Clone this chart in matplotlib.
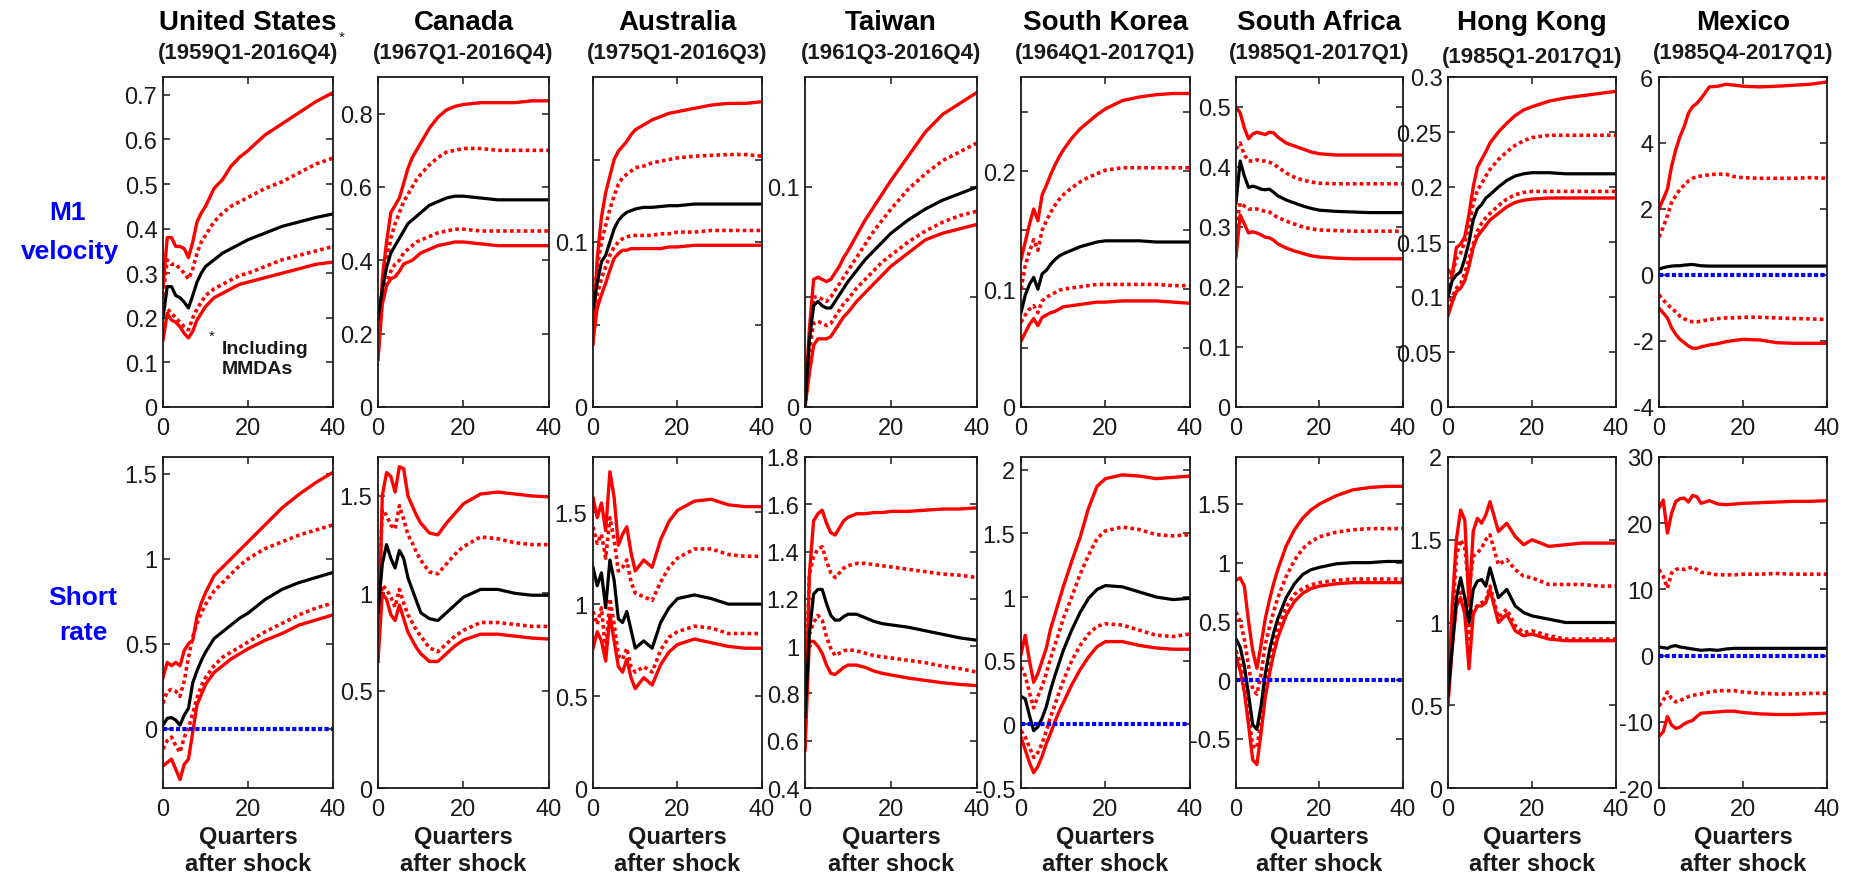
import numpy as np
import matplotlib
matplotlib.use("Agg")
import matplotlib.pyplot as plt

plt.rcParams['font.family'] = ['Liberation Sans', 'DejaVu Sans']
plt.rcParams['axes.unicode_minus'] = False

# ---------------- data ----------------
quarters = [0, 1, 2, 3, 4, 5, 6, 7, 8, 9, 10, 12, 14, 16, 18, 20, 24, 28, 32, 36, 40]

countries = ["United States", "Canada", "Australia", "Taiwan", "South Korea",
             "South Africa", "Hong Kong", "Mexico"]
periods = ["(1959Q1-2016Q4)", "(1967Q1-2016Q4)", "(1975Q1-2016Q3)", "(1961Q3-2016Q4)",
           "(1964Q1-2017Q1)", "(1985Q1-2017Q1)", "(1985Q1-2017Q1)", "(1985Q4-2017Q1)"]
row_labels = ["M1\nvelocity", "Short\nrate"]

# --- M1 velocity responses: outer band hi, inner band hi68, median, inner lo68, outer lo
us_v_hi = [0.27, 0.38, 0.38, 0.36, 0.36, 0.355, 0.335, 0.37, 0.415, 0.435, 0.45, 0.49, 0.51, 0.54, 0.56, 0.575, 0.61, 0.635, 0.66, 0.685, 0.705]
us_v_hi68 = [0.25, 0.33, 0.32, 0.32, 0.31, 0.30, 0.287, 0.31, 0.345, 0.37, 0.385, 0.415, 0.435, 0.45, 0.46, 0.47, 0.49, 0.505, 0.525, 0.545, 0.558]
us_v_med = [0.2, 0.27, 0.27, 0.25, 0.245, 0.235, 0.222, 0.25, 0.28, 0.30, 0.315, 0.33, 0.345, 0.355, 0.365, 0.375, 0.39, 0.405, 0.415, 0.425, 0.433]
us_v_lo68 = [0.23, 0.22, 0.21, 0.20, 0.19, 0.18, 0.173, 0.20, 0.22, 0.235, 0.25, 0.265, 0.275, 0.285, 0.295, 0.30, 0.315, 0.33, 0.34, 0.35, 0.36]
us_v_lo = [0.15, 0.21, 0.195, 0.19, 0.18, 0.165, 0.155, 0.17, 0.195, 0.21, 0.225, 0.245, 0.255, 0.265, 0.275, 0.28, 0.29, 0.30, 0.31, 0.32, 0.325]

ca_v_hi = [0.13, 0.35, 0.45, 0.53, 0.55, 0.57, 0.61, 0.65, 0.68, 0.70, 0.72, 0.76, 0.79, 0.81, 0.82, 0.825, 0.83, 0.83, 0.83, 0.835, 0.835]
ca_v_hi68 = [0.2, 0.32, 0.40, 0.46, 0.50, 0.53, 0.56, 0.58, 0.60, 0.62, 0.635, 0.66, 0.68, 0.695, 0.70, 0.705, 0.705, 0.70, 0.70, 0.70, 0.70]
ca_v_med = [0.24, 0.32, 0.38, 0.42, 0.44, 0.46, 0.48, 0.50, 0.51, 0.52, 0.53, 0.55, 0.56, 0.57, 0.575, 0.575, 0.57, 0.565, 0.565, 0.565, 0.565]
ca_v_lo68 = [0.22, 0.30, 0.34, 0.37, 0.39, 0.40, 0.42, 0.43, 0.44, 0.45, 0.455, 0.465, 0.475, 0.48, 0.485, 0.485, 0.48, 0.48, 0.48, 0.48, 0.48]
ca_v_lo = [0.13, 0.28, 0.33, 0.35, 0.355, 0.37, 0.39, 0.395, 0.40, 0.41, 0.42, 0.43, 0.44, 0.445, 0.45, 0.45, 0.445, 0.44, 0.44, 0.44, 0.44]

au_v_hi = [0.038, 0.09, 0.115, 0.13, 0.14, 0.15, 0.155, 0.158, 0.161, 0.165, 0.168, 0.171, 0.174, 0.176, 0.178, 0.179, 0.181, 0.183, 0.184, 0.184, 0.185]
au_v_hi68 = [0.06, 0.085, 0.10, 0.11, 0.12, 0.128, 0.135, 0.139, 0.141, 0.143, 0.145, 0.146, 0.148, 0.149, 0.150, 0.151, 0.152, 0.1525, 0.153, 0.153, 0.152]
au_v_med = [0.06, 0.075, 0.088, 0.092, 0.10, 0.108, 0.113, 0.116, 0.118, 0.119, 0.120, 0.121, 0.121, 0.1215, 0.122, 0.122, 0.123, 0.123, 0.123, 0.123, 0.123]
au_v_lo68 = [0.055, 0.068, 0.078, 0.085, 0.092, 0.097, 0.100, 0.102, 0.103, 0.104, 0.104, 0.104, 0.104, 0.105, 0.105, 0.106, 0.106, 0.107, 0.107, 0.107, 0.107]
au_v_lo = [0.04, 0.06, 0.068, 0.075, 0.083, 0.090, 0.093, 0.095, 0.095, 0.096, 0.096, 0.096, 0.096, 0.096, 0.097, 0.097, 0.098, 0.098, 0.098, 0.098, 0.098]

tw_v_hi = [0.0, 0.035, 0.058, 0.059, 0.058, 0.057, 0.058, 0.061, 0.064, 0.068, 0.071, 0.078, 0.085, 0.091, 0.097, 0.103, 0.114, 0.125, 0.133, 0.138, 0.143]
tw_v_hi68 = [0.0, 0.03, 0.05, 0.05, 0.049, 0.048, 0.05, 0.053, 0.056, 0.059, 0.062, 0.068, 0.074, 0.080, 0.085, 0.090, 0.099, 0.106, 0.112, 0.116, 0.12]
tw_v_med = [0.0, 0.03, 0.046, 0.048, 0.046, 0.045, 0.045, 0.048, 0.051, 0.054, 0.057, 0.062, 0.067, 0.071, 0.075, 0.079, 0.085, 0.09, 0.094, 0.097, 0.1]
tw_v_lo68 = [0.0, 0.025, 0.038, 0.039, 0.038, 0.037, 0.038, 0.041, 0.044, 0.047, 0.049, 0.054, 0.058, 0.062, 0.066, 0.069, 0.075, 0.080, 0.084, 0.087, 0.089]
tw_v_lo = [0.0, 0.015, 0.028, 0.031, 0.031, 0.031, 0.032, 0.035, 0.038, 0.041, 0.043, 0.048, 0.052, 0.056, 0.06, 0.064, 0.07, 0.076, 0.079, 0.081, 0.083]

kr_v_hi = [0.125, 0.14, 0.155, 0.168, 0.158, 0.18, 0.188, 0.197, 0.205, 0.212, 0.218, 0.228, 0.236, 0.242, 0.248, 0.253, 0.26, 0.263, 0.265, 0.266, 0.266]
kr_v_hi68 = [0.10, 0.12, 0.132, 0.142, 0.133, 0.15, 0.158, 0.165, 0.171, 0.176, 0.18, 0.186, 0.191, 0.195, 0.198, 0.201, 0.203, 0.203, 0.203, 0.203, 0.203]
kr_v_med = [0.08, 0.095, 0.104, 0.11, 0.10, 0.113, 0.116, 0.121, 0.125, 0.128, 0.13, 0.133, 0.136, 0.138, 0.14, 0.141, 0.141, 0.141, 0.14, 0.14, 0.14]
kr_v_lo68 = [0.072, 0.078, 0.083, 0.086, 0.080, 0.09, 0.093, 0.095, 0.097, 0.099, 0.10, 0.101, 0.102, 0.103, 0.104, 0.104, 0.104, 0.104, 0.104, 0.103, 0.103]
kr_v_lo = [0.056, 0.063, 0.07, 0.075, 0.069, 0.076, 0.078, 0.080, 0.081, 0.083, 0.085, 0.086, 0.087, 0.088, 0.089, 0.089, 0.09, 0.09, 0.09, 0.089, 0.088]

za_v_hi = [0.50, 0.49, 0.465, 0.447, 0.455, 0.458, 0.456, 0.454, 0.458, 0.457, 0.45, 0.44, 0.435, 0.43, 0.425, 0.422, 0.42, 0.42, 0.42, 0.42, 0.42]
za_v_hi68 = [0.43, 0.44, 0.42, 0.41, 0.41, 0.412, 0.41, 0.41, 0.408, 0.405, 0.40, 0.39, 0.383, 0.378, 0.375, 0.373, 0.372, 0.372, 0.372, 0.372, 0.372]
za_v_med = [0.34, 0.41, 0.385, 0.366, 0.368, 0.366, 0.363, 0.362, 0.363, 0.358, 0.352, 0.345, 0.34, 0.335, 0.331, 0.328, 0.326, 0.325, 0.324, 0.324, 0.324]
za_v_lo68 = [0.30, 0.34, 0.335, 0.33, 0.33, 0.33, 0.328, 0.326, 0.325, 0.32, 0.316, 0.31, 0.305, 0.30, 0.297, 0.295, 0.294, 0.293, 0.293, 0.293, 0.293]
za_v_lo = [0.25, 0.32, 0.305, 0.29, 0.292, 0.29, 0.287, 0.283, 0.282, 0.278, 0.272, 0.265, 0.26, 0.256, 0.252, 0.25, 0.248, 0.247, 0.247, 0.247, 0.247]

hk_v_hi = [0.125, 0.12, 0.145, 0.148, 0.155, 0.175, 0.20, 0.218, 0.225, 0.232, 0.24, 0.25, 0.258, 0.265, 0.27, 0.273, 0.278, 0.281, 0.283, 0.285, 0.287]
hk_v_hi68 = [0.11, 0.12, 0.135, 0.14, 0.15, 0.165, 0.185, 0.197, 0.203, 0.21, 0.216, 0.225, 0.232, 0.238, 0.242, 0.245, 0.247, 0.247, 0.247, 0.247, 0.247]
hk_v_med = [0.1, 0.115, 0.12, 0.123, 0.135, 0.15, 0.17, 0.18, 0.184, 0.19, 0.193, 0.2, 0.206, 0.21, 0.212, 0.213, 0.213, 0.212, 0.212, 0.212, 0.212]
hk_v_lo68 = [0.09, 0.10, 0.108, 0.112, 0.122, 0.135, 0.148, 0.16, 0.167, 0.172, 0.176, 0.183, 0.189, 0.193, 0.195, 0.196, 0.196, 0.196, 0.196, 0.196, 0.196]
hk_v_lo = [0.083, 0.095, 0.105, 0.108, 0.115, 0.128, 0.145, 0.155, 0.16, 0.165, 0.17, 0.176, 0.182, 0.186, 0.188, 0.189, 0.19, 0.19, 0.19, 0.19, 0.19]

mx_v_hi = [2.0, 2.3, 2.6, 3.3, 3.8, 4.2, 4.5, 4.9, 5.1, 5.2, 5.35, 5.7, 5.72, 5.78, 5.75, 5.72, 5.7, 5.72, 5.75, 5.78, 5.85]
mx_v_hi68 = [1.15, 1.45, 1.8, 2.2, 2.4, 2.6, 2.72, 2.85, 2.93, 2.98, 3.0, 3.04, 3.06, 3.05, 2.98, 2.95, 2.93, 2.93, 2.93, 2.95, 2.93]
mx_v_med = [0.18, 0.22, 0.25, 0.27, 0.28, 0.28, 0.3, 0.31, 0.32, 0.3, 0.28, 0.27, 0.27, 0.27, 0.27, 0.27, 0.27, 0.27, 0.27, 0.27, 0.27]
mx_v_lo68 = [-0.6, -0.75, -0.9, -1.0, -1.12, -1.25, -1.33, -1.38, -1.42, -1.42, -1.4, -1.35, -1.32, -1.3, -1.3, -1.28, -1.28, -1.3, -1.32, -1.33, -1.35]
mx_v_lo = [-1.0, -1.15, -1.3, -1.6, -1.8, -1.95, -2.05, -2.15, -2.22, -2.22, -2.18, -2.12, -2.08, -2.02, -1.98, -1.95, -1.97, -2.05, -2.07, -2.07, -2.07]

# --- short rate responses
us_r_hi = [0.3, 0.39, 0.37, 0.39, 0.37, 0.46, 0.5, 0.52, 0.66, 0.74, 0.8, 0.9, 0.95, 1.0, 1.05, 1.1, 1.2, 1.3, 1.38, 1.45, 1.51]
us_r_hi68 = [0.15, 0.22, 0.23, 0.22, 0.19, 0.28, 0.42, 0.54, 0.62, 0.68, 0.73, 0.81, 0.86, 0.91, 0.96, 1.0, 1.06, 1.1, 1.14, 1.17, 1.2]
us_r_med = [0.02, 0.06, 0.065, 0.05, 0.02, 0.08, 0.12, 0.27, 0.34, 0.40, 0.45, 0.53, 0.57, 0.61, 0.65, 0.68, 0.76, 0.82, 0.86, 0.89, 0.92]
us_r_lo68 = [-0.12, -0.07, -0.05, -0.1, -0.14, -0.05, 0.0, 0.09, 0.18, 0.25, 0.3, 0.37, 0.42, 0.45, 0.48, 0.51, 0.57, 0.62, 0.67, 0.71, 0.74]
us_r_lo = [-0.22, -0.2, -0.18, -0.24, -0.3, -0.21, -0.18, -0.02, 0.14, 0.2, 0.26, 0.33, 0.37, 0.41, 0.44, 0.47, 0.52, 0.56, 0.61, 0.64, 0.67]

ca_r_hi = [0.65, 1.5, 1.62, 1.6, 1.52, 1.65, 1.64, 1.5, 1.45, 1.4, 1.36, 1.31, 1.3, 1.36, 1.41, 1.46, 1.51, 1.52, 1.51, 1.5, 1.495]
ca_r_hi68 = [0.85, 1.43, 1.4, 1.35, 1.33, 1.45, 1.38, 1.3, 1.26, 1.21, 1.17, 1.11, 1.1, 1.15, 1.2, 1.24, 1.29, 1.28, 1.26, 1.25, 1.25]
ca_r_med = [0.9, 1.15, 1.25, 1.18, 1.13, 1.22, 1.18, 1.08, 1.02, 0.96, 0.9, 0.87, 0.86, 0.9, 0.94, 0.98, 1.02, 1.02, 1.0, 0.99, 0.99]
ca_r_lo68 = [0.8, 1.04, 1.02, 0.98, 0.93, 1.02, 0.95, 0.89, 0.85, 0.81, 0.78, 0.72, 0.70, 0.74, 0.78, 0.81, 0.85, 0.85, 0.84, 0.83, 0.83]
ca_r_lo = [0.65, 1.0, 0.97, 0.89, 0.86, 0.94, 0.87, 0.8, 0.76, 0.72, 0.69, 0.65, 0.65, 0.69, 0.73, 0.76, 0.79, 0.79, 0.78, 0.77, 0.765]

au_r_hi = [1.58, 1.47, 1.55, 1.4, 1.72, 1.58, 1.32, 1.38, 1.42, 1.28, 1.18, 1.24, 1.2, 1.35, 1.45, 1.51, 1.56, 1.57, 1.54, 1.53, 1.53]
au_r_hi68 = [1.42, 1.33, 1.38, 1.25, 1.47, 1.35, 1.18, 1.2, 1.24, 1.12, 1.06, 1.04, 1.02, 1.12, 1.2, 1.25, 1.3, 1.3, 1.27, 1.26, 1.26]
au_r_med = [1.2, 1.1, 1.17, 0.98, 1.24, 1.13, 0.92, 0.9, 0.96, 0.86, 0.76, 0.8, 0.76, 0.9, 0.98, 1.03, 1.05, 1.03, 1.0, 1.0, 1.0]
au_r_lo68 = [0.96, 0.89, 0.98, 0.74, 1.03, 0.89, 0.72, 0.7, 0.76, 0.66, 0.63, 0.66, 0.63, 0.75, 0.82, 0.85, 0.88, 0.87, 0.84, 0.84, 0.84]
au_r_lo = [0.76, 0.85, 0.8, 0.69, 0.94, 0.8, 0.66, 0.63, 0.7, 0.6, 0.54, 0.6, 0.56, 0.67, 0.74, 0.78, 0.81, 0.79, 0.77, 0.76, 0.76]

tw_r_hi = [0.57, 1.3, 1.53, 1.56, 1.575, 1.52, 1.48, 1.47, 1.5, 1.53, 1.545, 1.56, 1.56, 1.565, 1.565, 1.57, 1.57, 1.575, 1.58, 1.58, 1.585]
tw_r_hi68 = [0.7, 1.3, 1.38, 1.41, 1.42, 1.36, 1.31, 1.29, 1.31, 1.33, 1.34, 1.35, 1.35, 1.345, 1.34, 1.335, 1.325, 1.315, 1.305, 1.3, 1.29]
tw_r_med = [0.7, 1.05, 1.22, 1.24, 1.24, 1.18, 1.13, 1.11, 1.11, 1.125, 1.135, 1.135, 1.12, 1.105, 1.095, 1.09, 1.08, 1.065, 1.05, 1.035, 1.025]
tw_r_lo68 = [0.7, 1.05, 1.1, 1.13, 1.11, 1.04, 0.99, 0.96, 0.97, 0.98, 0.985, 0.98, 0.97, 0.96, 0.955, 0.95, 0.94, 0.93, 0.915, 0.905, 0.89]
tw_r_lo = [0.56, 1.02, 1.02, 1.0, 0.97, 0.92, 0.885, 0.88, 0.895, 0.91, 0.92, 0.92, 0.91, 0.895, 0.885, 0.878, 0.865, 0.855, 0.845, 0.838, 0.833]

kr_r_hi = [0.55, 0.7, 0.5, 0.33, 0.4, 0.5, 0.6, 0.75, 0.86, 0.97, 1.08, 1.28, 1.47, 1.7, 1.87, 1.93, 1.96, 1.95, 1.93, 1.94, 1.95]
kr_r_hi68 = [0.45, 0.38, 0.25, 0.13, 0.22, 0.3, 0.4, 0.52, 0.62, 0.72, 0.83, 1.0, 1.18, 1.33, 1.46, 1.52, 1.55, 1.53, 1.49, 1.48, 1.49]
kr_r_med = [0.22, 0.2, 0.07, -0.05, -0.02, 0.05, 0.14, 0.27, 0.38, 0.48, 0.58, 0.74, 0.88, 0.99, 1.06, 1.09, 1.08, 1.04, 1.0, 0.98, 0.99]
kr_r_lo68 = [-0.05, -0.1, -0.18, -0.26, -0.22, -0.15, -0.05, 0.06, 0.15, 0.25, 0.34, 0.5, 0.62, 0.71, 0.77, 0.79, 0.78, 0.74, 0.7, 0.69, 0.71]
kr_r_lo = [-0.1, -0.2, -0.3, -0.38, -0.33, -0.25, -0.15, -0.07, 0.02, 0.1, 0.17, 0.31, 0.43, 0.53, 0.61, 0.65, 0.65, 0.62, 0.6, 0.59, 0.59]

za_r_hi = [0.85, 0.87, 0.8, 0.5, 0.25, 0.1, 0.3, 0.52, 0.68, 0.82, 0.94, 1.14, 1.28, 1.38, 1.45, 1.5, 1.57, 1.62, 1.64, 1.65, 1.65]
za_r_hi68 = [0.58, 0.5, 0.35, 0.12, -0.08, -0.12, 0.05, 0.3, 0.45, 0.58, 0.7, 0.88, 1.02, 1.12, 1.18, 1.22, 1.26, 1.28, 1.29, 1.29, 1.29]
za_r_med = [0.35, 0.28, 0.12, -0.12, -0.38, -0.42, -0.22, 0.05, 0.25, 0.4, 0.52, 0.7, 0.82, 0.9, 0.94, 0.96, 0.99, 1.0, 1.0, 1.01, 1.01]
za_r_lo68 = [0.25, 0.15, -0.02, -0.3, -0.56, -0.58, -0.35, -0.08, 0.12, 0.3, 0.44, 0.62, 0.73, 0.78, 0.81, 0.83, 0.85, 0.86, 0.86, 0.86, 0.86]
za_r_lo = [0.2, 0.08, -0.1, -0.38, -0.68, -0.72, -0.45, -0.15, 0.05, 0.22, 0.36, 0.55, 0.67, 0.74, 0.78, 0.8, 0.82, 0.83, 0.83, 0.83, 0.83]

hk_r_hi = [0.55, 1.1, 1.5, 1.68, 1.62, 1.1, 1.55, 1.63, 1.6, 1.65, 1.73, 1.55, 1.6, 1.52, 1.47, 1.5, 1.46, 1.47, 1.48, 1.48, 1.48]
hk_r_hi68 = [0.6, 1.0, 1.4, 1.5, 1.45, 1.2, 1.4, 1.42, 1.45, 1.5, 1.53, 1.35, 1.38, 1.32, 1.28, 1.27, 1.23, 1.23, 1.23, 1.22, 1.22]
hk_r_med = [0.56, 0.85, 1.15, 1.27, 1.15, 1.0, 1.2, 1.25, 1.26, 1.22, 1.33, 1.15, 1.2, 1.1, 1.06, 1.04, 1.02, 1.0, 1.0, 1.0, 1.0]
hk_r_lo68 = [0.55, 0.9, 1.1, 1.2, 1.15, 0.9, 1.08, 1.1, 1.12, 1.13, 1.22, 1.03, 1.08, 0.98, 0.94, 0.95, 0.92, 0.9, 0.9, 0.9, 0.9]
hk_r_lo = [0.5, 0.85, 1.1, 1.15, 1.05, 0.72, 1.05, 1.1, 1.1, 1.12, 1.2, 1.0, 1.05, 0.95, 0.92, 0.93, 0.9, 0.89, 0.89, 0.89, 0.89]

mx_r_hi = [22.3, 23.5, 18.5, 21.5, 23.3, 23.7, 23.8, 23.2, 24.2, 24.0, 23.0, 23.4, 22.9, 22.8, 22.9, 23.0, 23.1, 23.2, 23.3, 23.3, 23.4]
mx_r_hi68 = [13.0, 12.0, 10.2, 12.5, 13.0, 13.2, 13.0, 13.2, 13.4, 13.0, 12.6, 12.4, 12.2, 12.2, 12.2, 12.3, 12.3, 12.4, 12.3, 12.3, 12.3]
mx_r_med = [1.3, 1.2, 1.1, 1.4, 1.5, 1.3, 1.2, 1.1, 1.0, 0.9, 0.8, 0.9, 0.8, 1.0, 1.1, 1.1, 1.1, 1.1, 1.1, 1.1, 1.1]
mx_r_lo68 = [-7.6, -6.8, -5.5, -6.5, -7.0, -6.8, -6.5, -6.2, -6.0, -5.9, -5.8, -5.5, -5.3, -5.3, -5.3, -5.5, -5.7, -5.8, -5.8, -5.7, -5.7]
mx_r_lo = [-12.2, -11.5, -9.2, -10.5, -11.0, -10.8, -10.3, -10.0, -9.8, -9.2, -8.7, -8.6, -8.5, -8.4, -8.4, -8.6, -8.8, -8.9, -8.9, -8.8, -8.7]

# y-axis limits / ticks (tick labels shown; '' = unlabeled tick)
v_ylims = [(0, 0.74), (0, 0.9), (0, 0.2), (0, 0.15), (0, 0.28), (0, 0.55), (0, 0.3), (-4, 6)]
v_ticks = [[0, 0.1, 0.2, 0.3, 0.4, 0.5, 0.6, 0.7], [0, 0.2, 0.4, 0.6, 0.8],
           [0, 0.05, 0.1, 0.15], [0, 0.05, 0.1], [0, 0.05, 0.1, 0.15, 0.2, 0.25],
           [0, 0.1, 0.2, 0.3, 0.4, 0.5], [0, 0.05, 0.1, 0.15, 0.2, 0.25, 0.3],
           [-4, -2, 0, 2, 4, 6]]
v_hidden = [[], [], [0.05, 0.15], [0.05], [0.05, 0.15, 0.25], [], [], []]
r_ylims = [(-0.35, 1.6), (0, 1.7), (0, 1.8), (0.4, 1.8), (-0.5, 2.1), (-0.92, 1.9), (0, 2), (-20, 30)]
r_ticks = [[0, 0.5, 1, 1.5], [0, 0.5, 1, 1.5], [0, 0.5, 1, 1.5],
           [0.4, 0.6, 0.8, 1, 1.2, 1.4, 1.6, 1.8], [-0.5, 0, 0.5, 1, 1.5, 2],
           [-0.5, 0, 0.5, 1, 1.5], [0, 0.5, 1, 1.5, 2], [-20, -10, 0, 10, 20, 30]]
v_zero_line = [False, False, False, False, False, False, False, True]
r_zero_line = [True, False, False, False, True, True, False, True]

velocity_sets = [
    (us_v_hi, us_v_hi68, us_v_med, us_v_lo68, us_v_lo),
    (ca_v_hi, ca_v_hi68, ca_v_med, ca_v_lo68, ca_v_lo),
    (au_v_hi, au_v_hi68, au_v_med, au_v_lo68, au_v_lo),
    (tw_v_hi, tw_v_hi68, tw_v_med, tw_v_lo68, tw_v_lo),
    (kr_v_hi, kr_v_hi68, kr_v_med, kr_v_lo68, kr_v_lo),
    (za_v_hi, za_v_hi68, za_v_med, za_v_lo68, za_v_lo),
    (hk_v_hi, hk_v_hi68, hk_v_med, hk_v_lo68, hk_v_lo),
    (mx_v_hi, mx_v_hi68, mx_v_med, mx_v_lo68, mx_v_lo),
]
rate_sets = [
    (us_r_hi, us_r_hi68, us_r_med, us_r_lo68, us_r_lo),
    (ca_r_hi, ca_r_hi68, ca_r_med, ca_r_lo68, ca_r_lo),
    (au_r_hi, au_r_hi68, au_r_med, au_r_lo68, au_r_lo),
    (tw_r_hi, tw_r_hi68, tw_r_med, tw_r_lo68, tw_r_lo),
    (kr_r_hi, kr_r_hi68, kr_r_med, kr_r_lo68, kr_r_lo),
    (za_r_hi, za_r_hi68, za_r_med, za_r_lo68, za_r_lo),
    (hk_r_hi, hk_r_hi68, hk_r_med, hk_r_lo68, hk_r_lo),
    (mx_r_hi, mx_r_hi68, mx_r_med, mx_r_lo68, mx_r_lo),
]

# ---------------- layout ----------------
W, H = 1856, 878
fig = plt.figure(figsize=(W / 100, H / 100), dpi=100)

lefts = [163, 378, 593, 805, 1021, 1236, 1448, 1659]
widths = [170, 171, 169, 172, 169, 167, 168, 168]
rows_px = [(78, 408), (458, 789)]

RED = '#ff0000'
BLUE = '#0000ff'
TXT = '#1a1a1a'


def fmt(v):
    return ('%g' % round(v, 4))


def draw_panel(ax, series, ylim, ticks, hidden, zero):
    hi, hi68, med, lo68, lo = series
    ax.plot(quarters, hi, color=RED, lw=2.4, solid_joinstyle='round')
    ax.plot(quarters, lo, color=RED, lw=2.4, solid_joinstyle='round')
    ax.plot(quarters, hi68, color=RED, lw=2.6, linestyle=(0, (1.0, 0.9)), dash_capstyle='butt')
    ax.plot(quarters, lo68, color=RED, lw=2.6, linestyle=(0, (1.0, 0.9)), dash_capstyle='butt')
    ax.plot(quarters, med, color='black', lw=2.3, solid_joinstyle='round')
    if zero:
        ax.plot([quarters[0], quarters[-1]], [0, 0], color=BLUE, lw=3.0,
                linestyle=(0, (1.0, 0.55)), dash_capstyle='butt')
    ax.set_xlim(0, 40)
    ax.set_ylim(*ylim)
    ax.set_xticks([0, 20, 40])
    ax.set_xticklabels(['0', '20', '40'])
    ax.set_yticks(ticks)
    ax.set_yticklabels(['' if any(abs(t - h) < 1e-9 for h in hidden) else fmt(t) for t in ticks])
    ax.tick_params(direction='in', top=True, right=True, length=5, width=1.1,
                   labelsize=17, colors=TXT)
    ax.tick_params(axis='x', pad=7)
    ax.tick_params(axis='y', pad=4)
    for s in ax.spines.values():
        s.set_linewidth(1.3)
        s.set_color(TXT)


axes_top = []
for r, (ytop, ybot) in enumerate(rows_px):
    for i in range(8):
        ax = fig.add_axes([lefts[i] / W, 1 - ybot / H, widths[i] / W, (ybot - ytop) / H])
        if r == 0:
            draw_panel(ax, velocity_sets[i], v_ylims[i], v_ticks[i], v_hidden[i], v_zero_line[i])
            axes_top.append(ax)
        else:
            draw_panel(ax, rate_sets[i], r_ylims[i], r_ticks[i], [], r_zero_line[i])

# titles and subtitles
for i in range(8):
    cx = (lefts[i] + widths[i] / 2) / W
    fig.text(cx, 1 - 23 / H, countries[i], ha='center', va='center',
             fontsize=20, fontweight='bold', color='black')
    sub_y = 57 if countries[i] == "Hong Kong" else 54
    fig.text(cx, 1 - sub_y / H, periods[i], ha='center', va='center',
             fontsize=16, fontweight='bold', color=TXT)
    # x-axis caption
    fig.text(cx, 1 - 838 / H, "Quarters", ha='center', va='center',
             fontsize=17, fontweight='bold', color=TXT)
    fig.text(cx, 1 - 865 / H, "after shock", ha='center', va='center',
             fontsize=17, fontweight='bold', color=TXT)

fig.text(342 / W, 1 - 38 / H, "*", ha='center', va='center', fontsize=11, color=TXT)

# row labels
v1, v2 = row_labels[0].split('\n')
fig.text(68 / W, 1 - 213 / H, v1, ha='center', va='center', fontsize=19,
         fontweight='bold', color=BLUE)
fig.text(70 / W, 1 - 252 / H, v2, ha='center', va='center', fontsize=19,
         fontweight='bold', color=BLUE)
r1, r2 = row_labels[1].split('\n')
fig.text(83 / W, 1 - 598 / H, r1, ha='center', va='center', fontsize=19,
         fontweight='bold', color=BLUE)
fig.text(83 / W, 1 - 633 / H, r2, ha='center', va='center', fontsize=19,
         fontweight='bold', color=BLUE)

# US footnote inside first panel
fig.text(212 / W, 1 - 337 / H, "*", ha='center', va='center', fontsize=11, color=TXT)
fig.text(222 / W, 1 - 349 / H, "Including", ha='left', va='center', fontsize=14,
         fontweight='bold', color=TXT)
fig.text(222 / W, 1 - 370 / H, "MMDAs", ha='left', va='center', fontsize=14,
         fontweight='bold', color=TXT)

fig.savefig("out.png", dpi=100)
